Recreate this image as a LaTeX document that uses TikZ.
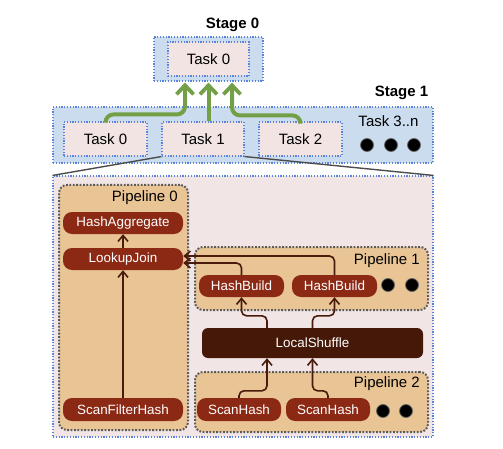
\documentclass[tikz,border=0pt]{standalone}
\usepackage{fontspec}
\setmainfont{Liberation Sans}
\usetikzlibrary{arrows.meta}
\definecolor{stageblue}{HTML}{CCDCEF}
\definecolor{bordblue}{HTML}{5B83DB}
\definecolor{taskpink}{HTML}{F1E4E3}
\definecolor{detpink}{HTML}{F1E5E5}
\definecolor{pipetan}{HTML}{E9C596}
\definecolor{pipebord}{HTML}{5A5A5A}
\definecolor{opred}{HTML}{8C2914}
\definecolor{shuf}{HTML}{461808}
\definecolor{brline}{HTML}{4A1A0B}
\definecolor{grn}{HTML}{73A046}
\tikzset{
  bluebox/.style={draw=bordblue, line width=1.1pt, dash pattern=on 1.2pt off 1.6pt, inner sep=0pt},
  stagebox/.style={bluebox, fill=stageblue},
  taskbox/.style={bluebox, fill=taskpink, minimum height=34pt, font=\fontsize{15}{18}\selectfont},
  pipebox/.style={draw=pipebord, fill=pipetan, line width=2pt, dash pattern=on 1.8pt off 1.6pt, rounded corners=8pt, inner sep=0pt},
  opnode/.style={fill=opred, text=white, rounded corners=9pt, minimum height=22pt, inner sep=0pt, font=\fontsize{13.4}{16}\selectfont},
  plabel/.style={anchor=east, inner sep=0pt, font=\fontsize{15}{18}\selectfont},
  slabel/.style={inner sep=0pt, font=\fontsize{15}{18}\selectfont\bfseries},
  blackdot/.style={circle, fill=black, draw=black!60, line width=0.8pt, minimum size=13pt, inner sep=0pt},
  brarrow/.style={draw=brline, line width=1.6pt, rounded corners=5pt, -{Straight Barb[length=6pt,width=10pt,line width=1.6pt]}},
  grarrow/.style={draw=grn, line width=4pt, rounded corners=8pt, -{Straight Barb[length=9pt,width=17pt,line width=3.8pt]}},
  zoomline/.style={draw=black!70, line width=1.4pt},
}
\begin{document}
\begin{tikzpicture}[x=1pt,y=-1pt]
\useasboundingbox (0,0) rectangle (503,449);
% Stage 0
\node[stagebox, minimum width=109pt, minimum height=44pt] (s0) at (208.5,59) {};
\node[taskbox, minimum width=81pt] (t0) at (208.5,59) {Task 0};
\node[slabel] (s0l) at (232.5,25) {Stage 0};
% Stage 1
\node[stagebox, minimum width=380pt, minimum height=56pt] (s1) at (243,135) {};
\node[slabel] (s1l) at (401.5,93) {Stage 1};
\node[taskbox, minimum width=83pt] (t10) at (105.5,139) {Task 0};
\node[taskbox, minimum width=82pt] (t11) at (203,139) {Task 1};
\node[taskbox, minimum width=83pt] (t12) at (300.5,139) {Task 2};
\node[inner sep=0pt, font=\fontsize{15}{18}\selectfont] (t13) at (388.5,121) {Task 3..n};
\node[blackdot] (d1) at (367,145) {};
\node[blackdot] (d2) at (391,145) {};
\node[blackdot] (d3) at (414,145) {};
% green arrows
\draw[grarrow] (t10.north) -- ++(0,-7) -| ([xshift=-23.5pt,yshift=-1pt]s0.south);
\draw[grarrow] (s0.south |- t11.north) -- ([yshift=-1pt]s0.south);
\draw[grarrow] (t12.north) -- ++(0,-6) -| ([xshift=23.5pt,yshift=-1pt]s0.south);
% detail box
\node[bluebox, fill=detpink, minimum width=380pt, minimum height=261pt] (det) at (243,306.5) {};
\draw[zoomline] (t11.south west) -- (det.north west);
\draw[zoomline] (t11.south east) -- (det.north east);
% Pipeline 0
\node[pipebox, minimum width=129pt, minimum height=245pt] (p0) at (123.5,307.5) {};
\node[plabel] (p0l) at (178,198) {Pipeline 0};
\node[opnode, minimum width=120pt] (ha) at (123,223) {HashAggregate};
\node[opnode, minimum width=120pt] (lj) at (123,259) {LookupJoin};
\node[opnode, minimum width=120pt, minimum height=23pt] (sfh) at (123,409.5) {ScanFilterHash};
% Pipeline 1
\node[pipebox, minimum width=233pt, minimum height=63pt] (p1) at (311.5,278.5) {};
\node[plabel] (p1l) at (420,261) {Pipeline 1};
\node[opnode, minimum width=85pt] (hb1) at (241.5,286) {HashBuild};
\node[opnode, minimum width=85pt] (hb2) at (334.5,286) {HashBuild};
\node[blackdot] (d4) at (388,285) {};
\node[blackdot] (d5) at (412,285) {};
% LocalShuffle
\node[fill=shuf, text=white, rounded corners=6pt, minimum width=221pt, minimum height=30pt, inner sep=0pt, font=\fontsize{13.4}{16}\selectfont] (ls) at (312.5,343) {LocalShuffle};
% Pipeline 2
\node[pipebox, minimum width=233pt, minimum height=60pt] (p2) at (311.5,402) {};
\node[plabel] (p2l) at (420,384) {Pipeline 2};
\node[opnode, minimum width=84pt, minimum height=23pt] (sh1) at (239,409.5) {ScanHash};
\node[opnode, minimum width=84pt, minimum height=23pt] (sh2) at (328,409.5) {ScanHash};
\node[blackdot] (d6) at (383,411) {};
\node[blackdot] (d7) at (406,411) {};
% brown arrows
\draw[brarrow] (sfh.north) -- (lj.south);
\draw[brarrow] (lj.north) -- (ha.south);
\draw[brarrow] (hb2.north) |- ([yshift=3pt]lj.east);
\draw[brarrow] (hb1.north) |- ([yshift=-4pt]lj.east);
\draw[brarrow] ([xshift=-45.5pt]ls.north) -- ++(0,-12) -| (hb1.south);
\draw[brarrow] (ls.north) -- ++(0,-12) -| (hb2.south);
\draw[brarrow] (sh1.north) -- ++(0,-7) -| ([xshift=-45.5pt]ls.south);
\draw[brarrow] (sh2.north) -- ++(0,-7) -| (ls.south);
\end{tikzpicture}
\end{document}
